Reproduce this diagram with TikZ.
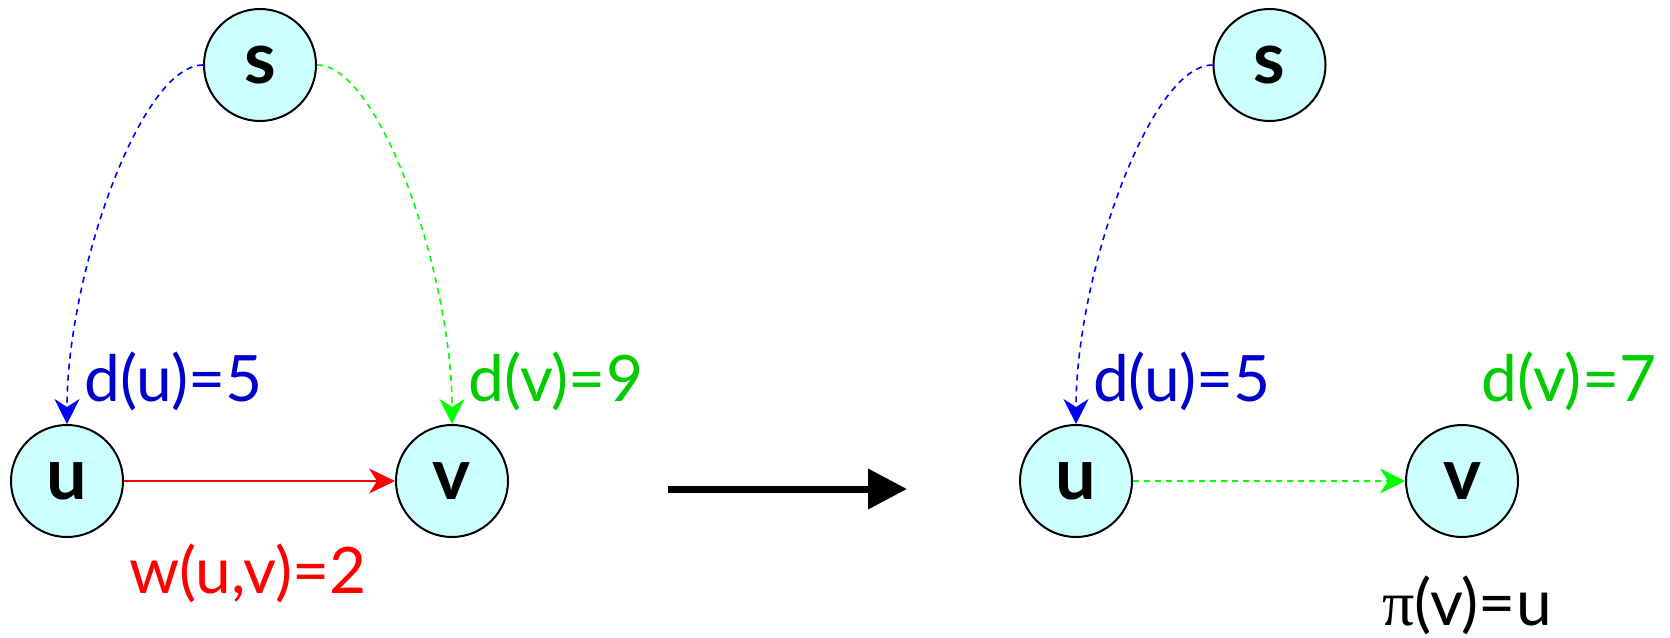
\documentclass[tikz,border=0pt]{standalone}
\usepackage{fontspec}
\setmainfont{Lato}
\newfontfamily\pifont{Liberation Serif}
\usetikzlibrary{arrows.meta}
\definecolor{cfill}{RGB}{204,255,255}
\definecolor{tblue}{RGB}{0,0,204}
\definecolor{tgreen}{RGB}{0,204,0}
\definecolor{lblue}{RGB}{0,0,255}
\definecolor{lgreen}{RGB}{0,255,0}
\definecolor{lred}{RGB}{255,0,0}
\tikzset{
  vert/.style={circle, draw=black, line width=2pt, fill=cfill, minimum size=112pt, inner sep=0pt,
    font=\fontsize{72}{80}\selectfont\bfseries},
  lbl/.style={inner sep=0pt, font=\fontsize{64}{72}\selectfont},
  dconn/.style={line width=1.6pt, dash pattern=on 6pt off 5pt, -{Stealth[length=25pt,width=25pt,inset=8pt]}},
  sconn/.style={line width=1.8pt, -{Stealth[length=26pt,width=25pt,inset=8pt]}},
  bigarrow/.style={line width=7pt, -{Triangle[length=39pt,width=39pt]}}
}
\begin{document}
\begin{tikzpicture}[x=1pt,y=-1pt]
\useasboundingbox (0,0) rectangle (1670,637);
% left graph
\node[vert] (s1) at (260,65) {s};
\node[vert] (u1) at (67,481) {u};
\node[vert] (v1) at (452,481) {v};
\draw[dconn, lblue] (s1.west) .. controls +(-63,0) and +(0,-148) .. (u1.north);
\draw[dconn, lgreen] (s1.east) .. controls +(63,0) and +(0,-148) .. (v1.north);
\draw[sconn, lred] (u1.east) -- (v1.west);
\node[lbl, text=tblue] (du1) at (174,381) {d(u)=5};
\node[lbl, text=tgreen] (dv1) at (556,381) {d(v)=9};
\node[lbl, text=lred] (w1) at (248,573) {w(u,v)=2};
% transition arrow
\coordinate (a1) at (668,489);
\coordinate (a2) at (907,489);
\draw[bigarrow] (a1) -- (a2);
% right graph
\node[vert] (s2) at (1269.5,65) {s};
\node[vert] (u2) at (1076,481) {u};
\node[vert] (v2) at (1462,481) {v};
\draw[dconn, lblue] (s2.west) .. controls +(-63,0) and +(0,-148) .. (u2.north);
\draw[dconn, lgreen] (u2.east) -- (v2.west);
\node[lbl, text=tblue] (du2) at (1182,381) {d(u)=5};
\node[lbl, text=tgreen] (dv2) at (1569,381) {d(v)=7};
\node[lbl, text=black] (pi2) at (1467,605) {{\pifont π}(v)=u};
\end{tikzpicture}
\end{document}
